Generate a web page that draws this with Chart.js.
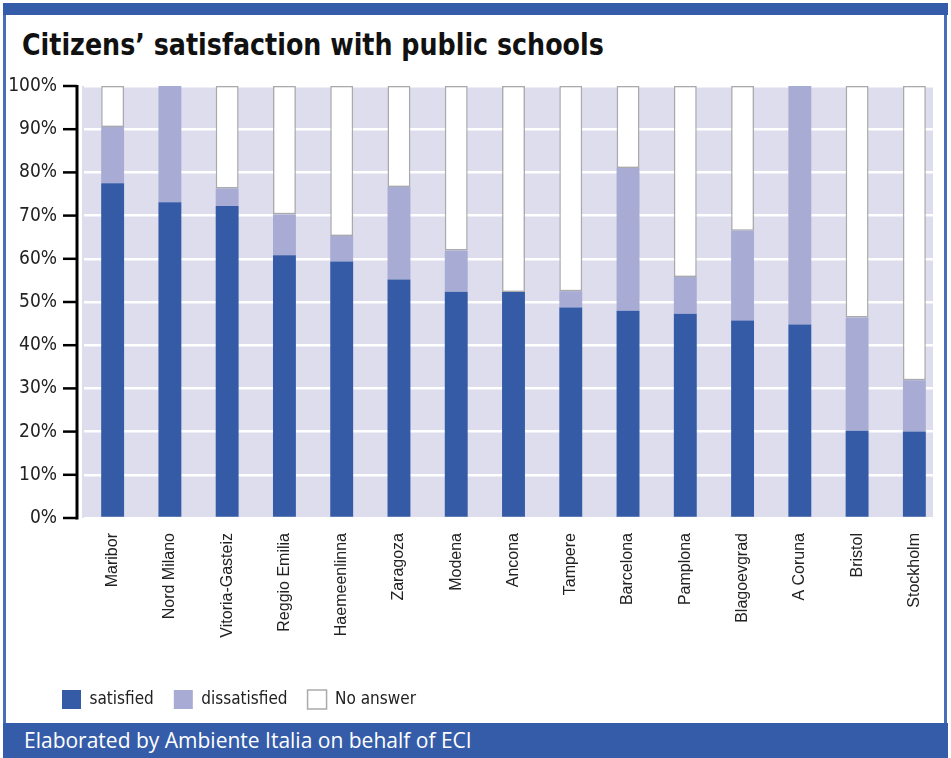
<!DOCTYPE html>
<html>
<head>
<meta charset="utf-8">
<script src="https://cdn.jsdelivr.net/npm/chart.js@4"></script>
<style>
  html, body { margin:0; padding:0; background:#fff; }
  body { width:951px; height:758px; position:relative; overflow:hidden; }
  .frame { position:absolute; left:3px; top:3px; width:944px; height:755px; border-left:3px solid #4a6fb8; border-right:3px solid #4a6fb8; box-sizing:border-box; }
  .topbar { position:absolute; left:3px; top:3px; width:945px; height:12px; background:#355ca8; }
  .title { position:absolute; left:22px; top:27px; font-family:'DejaVu Sans Condensed','Liberation Sans',sans-serif; font-weight:bold; font-size:30px; color:#111; white-space:nowrap; transform:scaleX(0.94); transform-origin:left top; }
  .footer { position:absolute; left:3px; top:723px; width:945px; height:35px; background:#355ca8; color:#fff; font-family:'Open Sans',sans-serif; font-size:21px; line-height:35px; padding-left:21px; box-sizing:border-box; }
  #wrap { position:absolute; left:0; top:0; width:951px; height:722px; }
</style>
</head>
<body>
<div class="frame"></div>
<div class="topbar"></div>
<div class="title">Citizens’ satisfaction with public schools</div>
<div class="footer">Elaborated by Ambiente Italia on behalf of ECI</div>
<div id="wrap"><canvas id="chart"></canvas></div>
<script>
// ============================================================
// DATA
// ============================================================
const cities = ['Maribor','Nord Milano','Vitoria-Gasteiz','Reggio Emilia','Haemeenlinna','Zaragoza','Modena','Ancona','Tampere','Barcelona','Pamplona','Blagoevgrad','A Coruna','Bristol','Stockholm'];
const satisfied    = [77.5, 73.1, 72.2, 60.8, 59.4, 55.2, 52.4, 52.3, 48.7, 48.0, 47.3, 45.7, 44.8, 20.2, 20.0];
const dissatisfied = [13.0, 26.9,  4.1,  9.5,  5.9, 21.4,  9.5,  0.0,  3.8, 33.0,  8.5, 20.8, 55.2, 26.2, 11.9];
const noAnswer     = [ 9.5,  0.0, 23.7, 29.7, 34.7, 23.4, 38.1, 47.7, 47.5, 19.0, 44.2, 33.5,  0.0, 53.6, 68.1];
const yTicks       = [0, 10, 20, 30, 40, 50, 60, 70, 80, 90, 100];

const BLUE  = '#355ba6';
const LILAC = '#a8abd4';
const NARROW = "'DejaVu Sans Condensed','Liberation Sans',sans-serif";

// plot background, slightly narrower than the category area
const plotBg = {
  id: 'plotBg',
  beforeDraw(chart) {
    const a = chart.chartArea, ctx = chart.ctx;
    ctx.save();
    ctx.fillStyle = '#dddded';
    ctx.fillRect(a.left - 2, a.top, a.right - a.left - 8, a.bottom - a.top);
    ctx.restore();
  }
};

// black y axis sitting a few pixels left of the plot, with tick marks
const yAxisLine = {
  id: 'yAxisLine',
  afterDraw(chart) {
    const y = chart.scales.y, a = chart.chartArea, ctx = chart.ctx;
    const x = a.left - 7;
    ctx.save();
    ctx.strokeStyle = '#000';
    ctx.lineWidth = 3;
    ctx.beginPath();
    ctx.moveTo(x, y.getPixelForValue(100) - 1);
    ctx.lineTo(x, y.getPixelForValue(0) + 1.5);
    ctx.stroke();
    ctx.lineWidth = 2.5;
    yTicks.forEach(v => {
      const py = y.getPixelForValue(v);
      ctx.beginPath();
      ctx.moveTo(x - 14, py);
      ctx.lineTo(x, py);
      ctx.stroke();
    });
    ctx.restore();
  }
};

// legend starts under the tick marks, not at the canvas edge
const legendShift = {
  id: 'legendShift',
  afterLayout(chart) { if(chart.legend) chart.legend.left += 42; }
};

new Chart(document.getElementById('chart'), {
  type: 'bar',
  data: {
    labels: cities,
    datasets: [
      { label:'satisfied',    data: satisfied,    backgroundColor: BLUE,  borderWidth:0 },
      { label:'dissatisfied', data: dissatisfied, backgroundColor: LILAC, borderWidth:0 },
      { label:'No answer',    data: noAnswer,     backgroundColor: '#ffffff', borderColor:'#aaaaaa', borderWidth:1.5, borderSkipped:false },
    ],
  },
  options: {
    responsive: true,
    maintainAspectRatio: false,
    animation: false,
    layout: { padding: { top:86, right:8, left:0, bottom:3 } },
    datasets: { bar: { barPercentage:0.4, categoryPercentage:1 } },
    plugins: {
      tooltip: { enabled:false },
      legend: {
        position: 'bottom', align: 'start',
        labels: { boxWidth:19, boxHeight:19, padding:20, color:'#222', font:{ family:NARROW, size:17 } },
      },
    },
    scales: {
      x: {
        stacked: true,
        border: { display:false },
        grid: { display:false, drawTicks:false },
        ticks: { color:'#222', font:{ family:"'Liberation Sans',sans-serif", size:16 }, minRotation:90, maxRotation:90, padding:15, autoSkip:false },
        afterFit: s => { s.height = 152; },
      },
      y: {
        stacked: true,
        min: 0, max: 100,
        border: { display:false },
        grid: { color:'#ffffff', lineWidth:2.5, drawTicks:false },
        ticks: { stepSize:10, color:'#222', padding:27, font:{ family:NARROW, size:19 }, callback: v => v + '%' },
        afterFit: s => { s.width = 84; },
      },
    },
  },
  plugins: [plotBg, yAxisLine, legendShift],
});
</script>
</body>
</html>
